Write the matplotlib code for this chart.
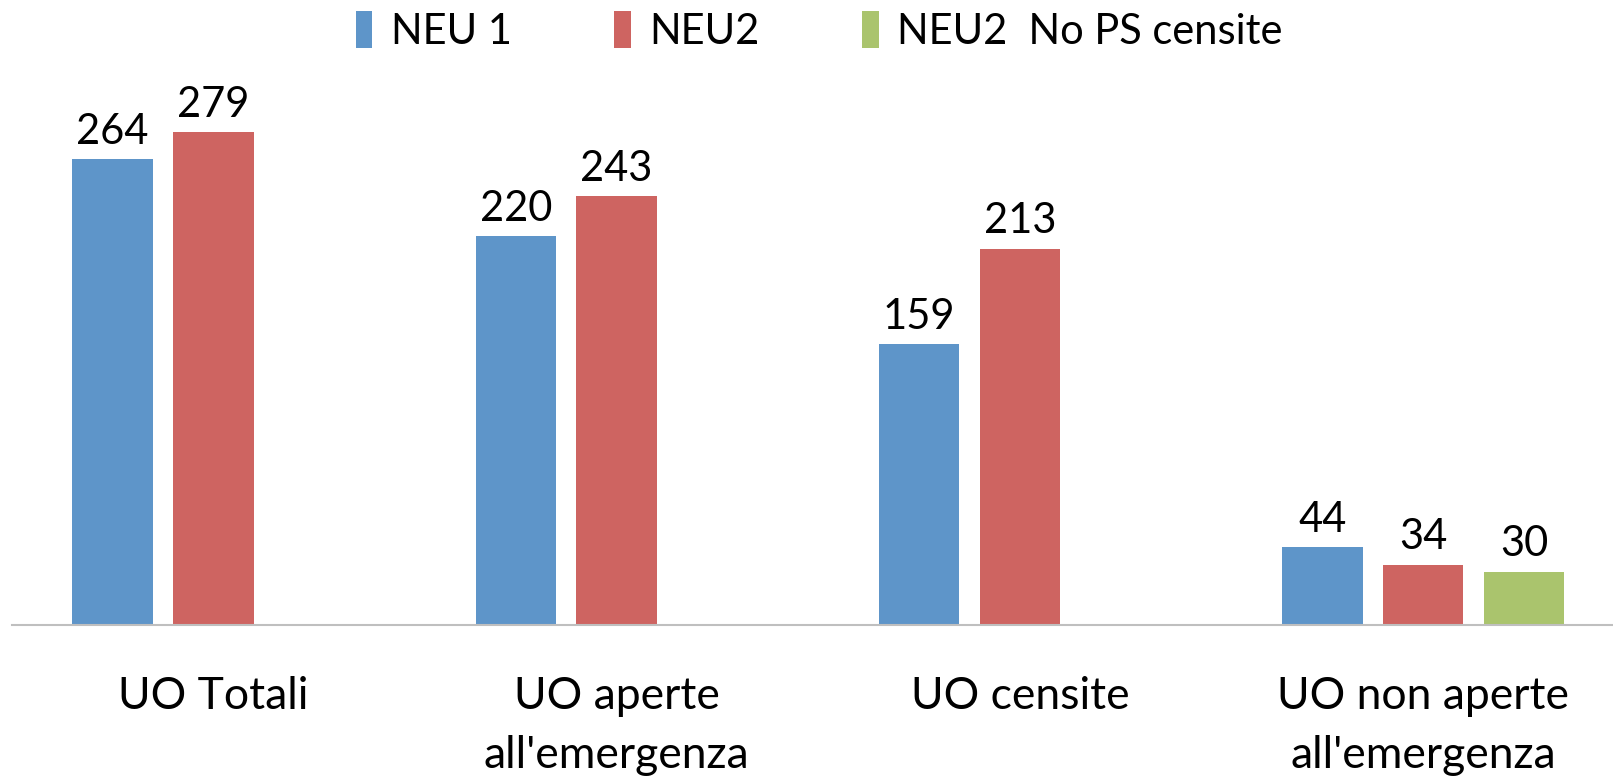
import numpy as np
import matplotlib
matplotlib.use('Agg')
from matplotlib import pyplot as plt

# dati
categorie = ["UO Totali", "UO aperte\nall'emergenza", "UO censite", "UO non aperte\nall'emergenza"]
serie = ["NEU 1", "NEU2", "NEU2  No PS censite"]
neu1 = [264, 220, 159, 44]
neu2 = [279, 243, 213, 34]
neu2_no_ps = [None, None, None, 30]

colori = ['#5E95C9', '#CE6461', '#AAC46D']

plt.rcParams['font.family'] = ['Lato', 'DejaVu Sans']

fig = plt.figure(figsize=(16.13, 7.84), dpi=100)
ax = fig.add_axes([0.0073, 0.2034, 1.0, 0.675])

x = np.arange(len(categorie))
larghezza = 0.2
passo = 0.25

for i, (nome, valori, col) in enumerate(zip(serie, [neu1, neu2, neu2_no_ps], colori)):
    xs = [xi + (i - 1) * passo for xi, v in zip(x, valori) if v is not None]
    vs = [v for v in valori if v is not None]
    barre = ax.bar(xs, vs, width=larghezza, color=col, label=nome)
    ax.bar_label(barre, padding=6, fontsize=30)

ax.set_xlim(-0.5, len(categorie) - 0.5)
ax.set_ylim(0, 300)
ax.set_yticks([])
ax.set_xticks(x)
ax.set_xticklabels(categorie, fontsize=32, linespacing=1.55)
ax.tick_params(axis='x', length=0, pad=37)
for s in ['top', 'right', 'left']:
    ax.spines[s].set_visible(False)
ax.spines['bottom'].set_color('#BFBFBF')
ax.spines['bottom'].set_linewidth(1.5)

fig.legend(loc='upper center', bbox_to_anchor=(0.508, 1.034), ncol=3, frameon=False,
           fontsize=30, handlelength=0.4, handleheight=1.0, handletextpad=0.45,
           columnspacing=2.45)

fig.savefig('out.png', dpi=100)
